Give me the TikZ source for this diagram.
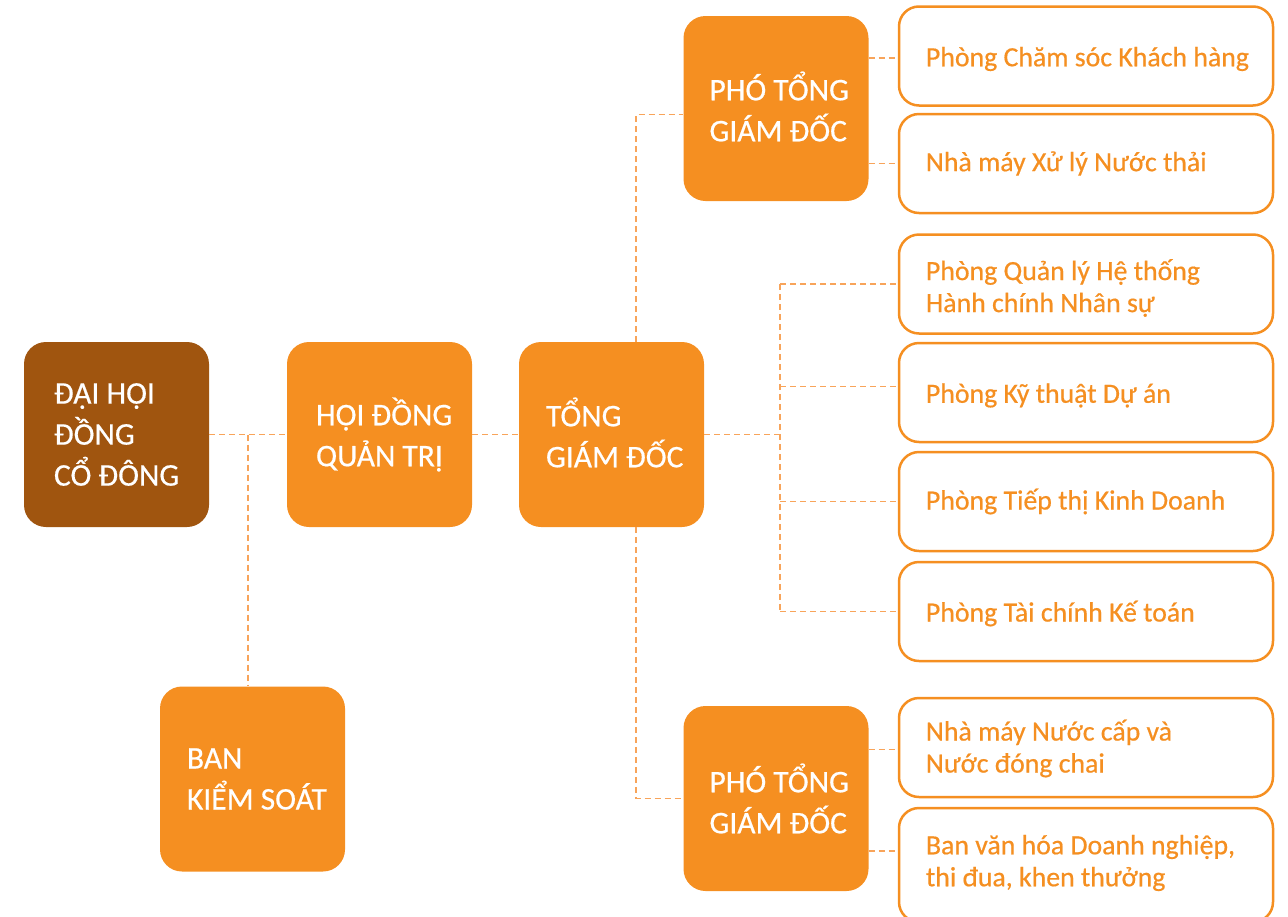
\documentclass[tikz,border=0pt]{standalone}
\usepackage{fontspec}
\setmainfont{Carlito}[FakeBold=0.5]
\newfontfamily\medfont{Carlito}[FakeBold=0.5]
\definecolor{brownbox}{HTML}{A0550F}
\definecolor{orangebox}{HTML}{F58F21}
\definecolor{dashc}{HTML}{F8A45A}
\begin{document}
\begin{tikzpicture}[x=1pt,y=-1pt,
  bigbox/.style={rectangle, rounded corners=22pt, minimum width=185pt, minimum height=185pt, inner sep=0pt, fill=orangebox, draw=none},
  bigtext/.style={anchor=west, align=left, inner sep=0pt, text=white, font=\medfont\fontsize{31.5}{41}\selectfont},
  smallbox/.style={rectangle, rounded corners=20pt, minimum width=374pt, minimum height=99pt, inner sep=0pt, fill=white, draw=orangebox, line width=2.5pt},
  smalltext/.style={anchor=west, align=left, inner sep=0pt, text=orangebox, font=\medfont\fontsize{27.8}{32}\selectfont},
  conn/.style={draw=dashc, line width=1.6pt, dash pattern=on 6pt off 4pt}]
\useasboundingbox (0,0) rectangle (1288,916);
\clip (0,0) rectangle (1288,916);
% big boxes
\node[bigbox, fill=brownbox] (dh) at (116.5,434.5) {};
\node[bigbox] (hd) at (379.5,434.5) {};
\node[bigbox] (tg) at (611.5,434.5) {};
\node[bigbox] (bks) at (252.5,779) {};
\node[bigbox] (p1) at (776,108.5) {};
\node[bigbox] (p2) at (776,798.5) {};
% small boxes
\node[smallbox] (r1) at (1086,56) {};
\node[smallbox] (r2) at (1086,163.5) {};
\node[smallbox] (r3) at (1086,284) {};
\node[smallbox] (r4) at (1086,392.5) {};
\node[smallbox] (r5) at (1086,501.5) {};
\node[smallbox] (r6) at (1086,611.5) {};
\node[smallbox] (r7) at (1086,747.5) {};
\node[smallbox, minimum height=114pt] (r8) at (1086,865) {};
% texts
\node[bigtext] (tdh) at ([xshift=30pt]dh.west) {ĐẠI HỘI\\ĐỒNG\\CỔ ĐÔNG};
\node[bigtext] (thd) at ([xshift=29pt]hd.west) {HỘI ĐỒNG\\QUẢN TRỊ};
\node[bigtext] (ttg) at ([xshift=27pt,yshift=2pt]tg.west) {TỔNG\\GIÁM ĐỐC};
\node[bigtext] (tbks) at ([xshift=27pt]bks.west) {BAN\\KIỂM SOÁT};
\node[bigtext] (tp1) at ([xshift=26pt,yshift=2pt]p1.west) {PHÓ TỔNG\\GIÁM ĐỐC};
\node[bigtext] (tp2) at ([xshift=26pt]p2.west) {PHÓ TỔNG\\GIÁM ĐỐC};
\node[smalltext] (t1) at ([xshift=28pt,yshift=-3pt]r1.west) {Phòng Chăm sóc Khách hàng};
\node[smalltext] (t2) at ([xshift=28pt]r2.west) {Nhà máy Xử lý Nước thải};
\node[smalltext] (t3) at ([xshift=28pt,yshift=-4pt]r3.west) {Phòng Quản lý Hệ thống\\Hành chính Nhân sự};
\node[smalltext] (t4) at ([xshift=28pt,yshift=-3pt]r4.west) {Phòng Kỹ thuật Dự án};
\node[smalltext] (t5) at ([xshift=28pt]r5.west) {Phòng Tiếp thị Kinh Doanh};
\node[smalltext] (t6) at ([xshift=28pt,yshift=-2pt]r6.west) {Phòng Tài chính Kế toán};
\node[smalltext] (t7) at ([xshift=28pt,yshift=-1pt]r7.west) {Nhà máy Nước cấp và\\Nước đóng chai};
\node[smalltext] (t8) at ([xshift=28pt,yshift=2pt]r8.west) {Ban văn hóa Doanh nghiệp,\\thi đua, khen thưởng};
% connectors
\coordinate (j1) at (248,434.5);
\coordinate (bus) at (780,434.5);
\coordinate (vx) at (636,0);
\draw[conn] (dh.east) -- (hd.west);
\draw[conn] (j1) -- (j1 |- bks.north);
\draw[conn] (hd.east) -- (tg.west);
\draw[conn] (tg.east) -- (bus);
\draw[conn] (bus |- r3.west) -- (bus |- r6.west);
\draw[conn] (bus |- r3.west) -- (r3.west);
\draw[conn] ([yshift=6pt]bus |- r4.west) -- ([yshift=6pt]r4.west);
\draw[conn] (bus |- r5.west) -- (r5.west);
\draw[conn] (bus |- r6.west) -- (r6.west);
\draw[conn] (vx |- tg.north) |- ([yshift=-6pt]p1.west);
\draw[conn] (vx |- tg.south) |- (p2.west);
\draw[conn] ([yshift=-2pt]p1.east |- r1.west) -- ([yshift=-2pt]r1.west);
\draw[conn] (p1.east |- r2.west) -- (r2.west);
\draw[conn] ([yshift=-2pt]p2.east |- r7.west) -- ([yshift=-2pt]r7.west);
\draw[conn] ([yshift=14pt]p2.east |- r8.west) -- ([yshift=14pt]r8.west);
\end{tikzpicture}
\end{document}
